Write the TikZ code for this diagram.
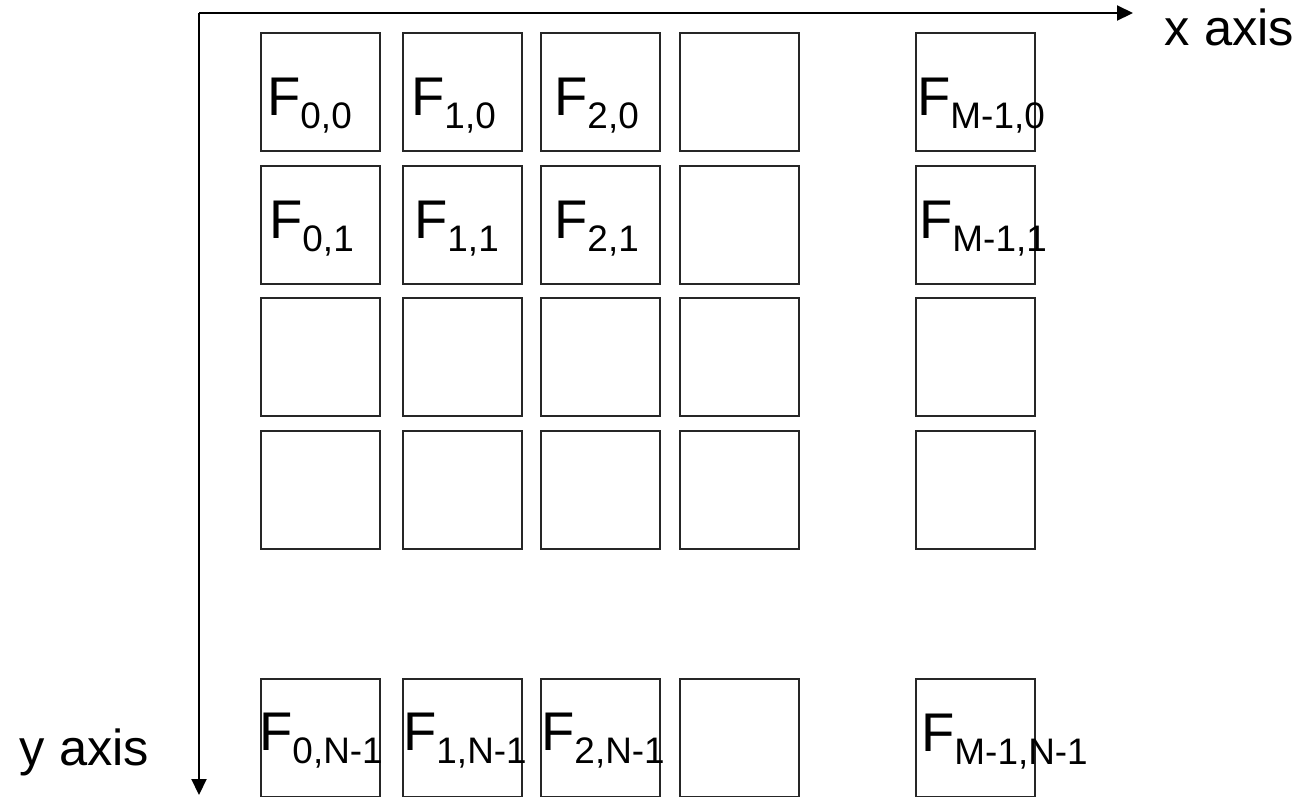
\documentclass[tikz,border=0pt]{standalone}
\usepackage{fontspec}
\setmainfont{Liberation Sans}
\usetikzlibrary{arrows.meta,positioning}

\newcommand{\fsub}[1]{F\raisebox{-0.13cm}{\fontsize{10.5pt}{13pt}\selectfont #1}}

\begin{document}
\begin{tikzpicture}[
    node distance=0.15cm and 0.2cm,
    cell/.style={draw=black!85, line width=0.35pt, minimum width=1.19cm, minimum height=1.18cm, inner sep=0pt, outer sep=0pt},
    flabel/.style={anchor=base west, inner sep=0pt, font=\fontsize{15.5pt}{18pt}\selectfont},
    axlabel/.style={anchor=base west, inner sep=0pt, font=\fontsize{14.4pt}{17pt}\selectfont},
    axis/.style={-{Triangle[length=0.16cm, width=0.15cm]}, line width=0.6pt}
  ]
  \useasboundingbox (0,0) rectangle (13.01,-7.96);
  % axes
  \coordinate (o) at (1.99,-0.13);
  \coordinate (xend) at (11.33,-0.13);
  \coordinate (yend) at (1.99,-7.95);
  \draw[axis] (o) -- (xend);
  \draw[axis] (o) -- (yend);
  \node[axlabel] (xlab) at (11.64,-0.45) {x axis};
  \node[axlabel] (ylab) at (0.19,-7.65) {y axis};
  % first row
  \node[cell, anchor=north west] (b00) at (2.61,-0.33) {};
  \node[cell, right=0.23cm of b00] (b10) {};
  \node[cell, right=0.19cm of b10] (b20) {};
  \node[cell, right=0.20cm of b20] (b30) {};
  \node[cell, right=1.17cm of b30] (b40) {};
  % rows below
  \node[cell, below=of b00] (b01) {};
  \node[cell, below=of b10] (b11) {};
  \node[cell, below=of b20] (b21) {};
  \node[cell, below=of b30] (b31) {};
  \node[cell, below=of b40] (b41) {};
  \node[cell, below=0.14cm of b01] (b02) {};
  \node[cell, below=0.14cm of b11] (b12) {};
  \node[cell, below=0.14cm of b21] (b22) {};
  \node[cell, below=0.14cm of b31] (b32) {};
  \node[cell, below=0.14cm of b41] (b42) {};
  \node[cell, below=of b02] (b03) {};
  \node[cell, below=of b12] (b13) {};
  \node[cell, below=of b22] (b23) {};
  \node[cell, below=of b32] (b33) {};
  \node[cell, below=of b42] (b43) {};
  % last row
  \node[cell, below=1.30cm of b03] (b0n) {};
  \node[cell, below=1.30cm of b13] (b1n) {};
  \node[cell, below=1.30cm of b23] (b2n) {};
  \node[cell, below=1.30cm of b33] (b3n) {};
  \node[cell, below=1.30cm of b43] (b4n) {};
  % labels
  \node[flabel] (l00) at ([shift={(0.055,-0.82)}]b00.north west) {\fsub{0,0}};
  \node[flabel] (l10) at ([shift={(0.075,-0.82)}]b10.north west) {\fsub{1,0}};
  \node[flabel] (l20) at ([shift={(0.125,-0.82)}]b20.north west) {\fsub{2,0}};
  \node[flabel] (l40) at ([shift={(0.005,-0.82)}]b40.north west) {\fsub{M-1,0}};
  \node[flabel] (l01) at ([shift={(0.075,-0.72)}]b01.north west) {\fsub{0,1}};
  \node[flabel] (l11) at ([shift={(0.105,-0.72)}]b11.north west) {\fsub{1,1}};
  \node[flabel] (l21) at ([shift={(0.125,-0.72)}]b21.north west) {\fsub{2,1}};
  \node[flabel] (l41) at ([shift={(0.025,-0.72)}]b41.north west) {\fsub{M-1,1}};
  \node[flabel] (l0n) at ([shift={(-0.025,-0.71)}]b0n.north west) {\fsub{0,N-1}};
  \node[flabel] (l1n) at ([shift={(-0.005,-0.71)}]b1n.north west) {\fsub{1,N-1}};
  \node[flabel] (l2n) at ([shift={(-0.005,-0.71)}]b2n.north west) {\fsub{2,N-1}};
  \node[flabel] (l4n) at ([shift={(0.045,-0.72)}]b4n.north west) {\fsub{M-1,N-1}};
\end{tikzpicture}
\end{document}
